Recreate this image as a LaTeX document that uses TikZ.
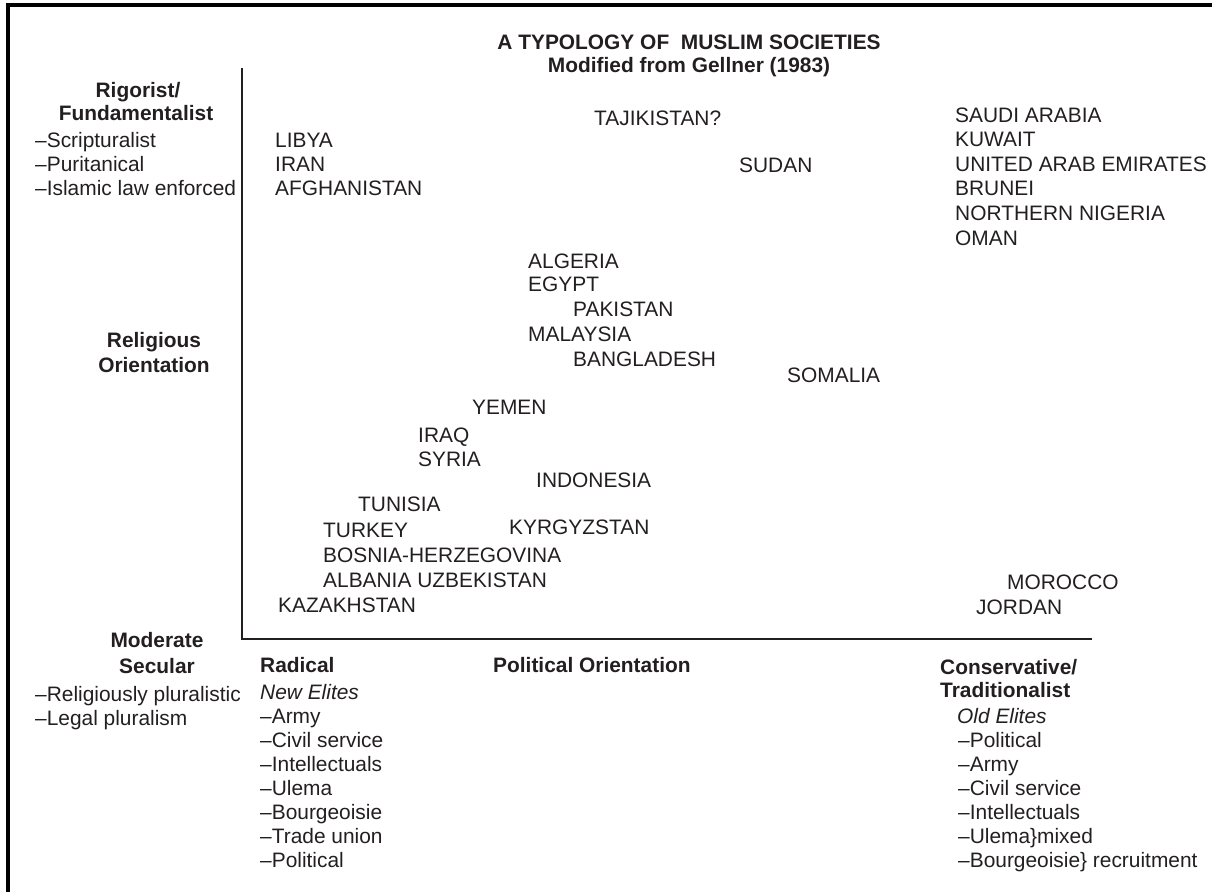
\documentclass[tikz,border=0pt]{standalone}
\usepackage{fontspec}
\setmainfont{Liberation Sans}
\definecolor{ink}{HTML}{231F20}
\newcommand{\fs}{\fontsize{20.9}{24.6}\selectfont}
\begin{document}
\begin{tikzpicture}[x=1pt,y=-1pt,
  txt/.style={anchor=base west, inner sep=0pt, font=\fs, text=ink},
  btxt/.style={anchor=base west, inner sep=0pt, font=\fs\bfseries, text=ink},
  itxt/.style={anchor=base west, inner sep=0pt, font=\fs\itshape, text=ink},
  ctxt/.style={anchor=base, inner sep=0pt, font=\fs\bfseries, text=ink},
  frameline/.style={line width=3.5pt, draw=black},
  axisline/.style={line width=2.8pt, draw=ink}]
\useasboundingbox (0,0) rectangle (1212,892);
% frame (top and left)
\coordinate (fTL) at (8,5);
\coordinate (fTR) at (1212,5);
\coordinate (fBL) at (8,892);
\draw[frameline] (fTR) -- (fTL) -- (fBL);
% axes
\coordinate (axTop) at (242,68);
\coordinate (axOrigin) at (242,639);
\coordinate (axRight) at (1092,639);
\draw[axisline] (axTop) -- (axOrigin) -- (axRight);
% title
\node[ctxt] (title) at (689,49) {A TYPOLOGY OF\ \ MUSLIM SOCIETIES};
\node[ctxt] (subtitle) at (689,72) {Modified from Gellner (1983)};
% left column
\node[ctxt] (rig) at (138,97) {Rigorist/};
\node[ctxt] (fund) at (136,120) {Fundamentalist};
\node[txt] (scr) at (35,147) {–Scripturalist};
\node[txt] (pur) at (35,171) {–Puritanical};
\node[txt] (isl) at (35,195) {–Islamic law enforced};
\node[ctxt] (rel) at (154,347) {Religious};
\node[ctxt] (ori) at (154,372) {Orientation};
\node[ctxt] (mod) at (157,647) {Moderate};
\node[ctxt] (sec) at (157,673) {Secular};
\node[txt] (rp) at (35,701) {–Religiously pluralistic};
\node[txt] (lp) at (35,725) {–Legal pluralism};
% countries
\node[txt] (taj) at (594,125) {TAJIKISTAN?};
\node[txt] (sau) at (955,122) {SAUDI ARABIA};
\node[txt] (kuw) at (955,146.6) {KUWAIT};
\node[txt] (uae) at (955,171.2) {UNITED ARAB EMIRATES};
\node[txt] (bru) at (955,195.8) {BRUNEI};
\node[txt] (nng) at (955,220.4) {NORTHERN NIGERIA};
\node[txt] (oma) at (955,245) {OMAN};
\node[txt] (lib) at (275,147) {LIBYA};
\node[txt] (ira) at (275,171) {IRAN};
\node[txt] (afg) at (275,195) {AFGHANISTAN};
\node[txt] (sud) at (739,172) {SUDAN};
\node[txt] (alg) at (528,268) {ALGERIA};
\node[txt] (egy) at (528,291) {EGYPT};
\node[txt] (pak) at (573,316) {PAKISTAN};
\node[txt] (mal) at (528,341) {MALAYSIA};
\node[txt] (ban) at (573,366) {BANGLADESH};
\node[txt] (som) at (787,382) {SOMALIA};
\node[txt] (yem) at (472,414) {YEMEN};
\node[txt] (irq) at (418,442) {IRAQ};
\node[txt] (syr) at (418,466) {SYRIA};
\node[txt] (ind) at (536,487) {INDONESIA};
\node[txt] (tun) at (358,511) {TUNISIA};
\node[txt] (tur) at (323,537) {TURKEY};
\node[txt] (kyr) at (509,534) {KYRGYZSTAN};
\node[txt] (bos) at (323,562) {BOSNIA-HERZEGOVINA};
\node[txt] (alb) at (323,587) {ALBANIA UZBEKISTAN};
\node[txt] (kaz) at (278,612) {KAZAKHSTAN};
\node[txt] (mor) at (1007,589) {MOROCCO};
\node[txt] (jor) at (976,614) {JORDAN};
% bottom: radical
\node[btxt] (rad) at (260,672) {Radical};
\node[itxt] (newel) at (260,699) {New Elites};
\node[txt] (r1) at (260,723) {–Army};
\node[txt] (r2) at (260,747) {–Civil service};
\node[txt] (r3) at (260,771) {–Intellectuals};
\node[txt] (r4) at (260,795) {–Ulema};
\node[txt] (r5) at (260,819) {–Bourgeoisie};
\node[txt] (r6) at (260,843) {–Trade union};
\node[txt] (r7) at (260,867) {–Political};
% political orientation
\node[btxt] (polor) at (493,672) {Political Orientation};
% conservative
\node[btxt] (con) at (940,674) {Conservative/};
\node[btxt] (tra) at (940,697) {Traditionalist};
\node[itxt] (oldel) at (957,723) {Old Elites};
\node[txt] (c1) at (958,747) {–Political};
\node[txt] (c2) at (958,771) {–Army};
\node[txt] (c3) at (958,795) {–Civil service};
\node[txt] (c4) at (958,819) {–Intellectuals};
\node[txt] (c5) at (958,843) {–Ulema\}mixed};
\node[txt] (c6) at (958,867) {–Bourgeoisie\} recruitment};
\end{tikzpicture}
\end{document}
